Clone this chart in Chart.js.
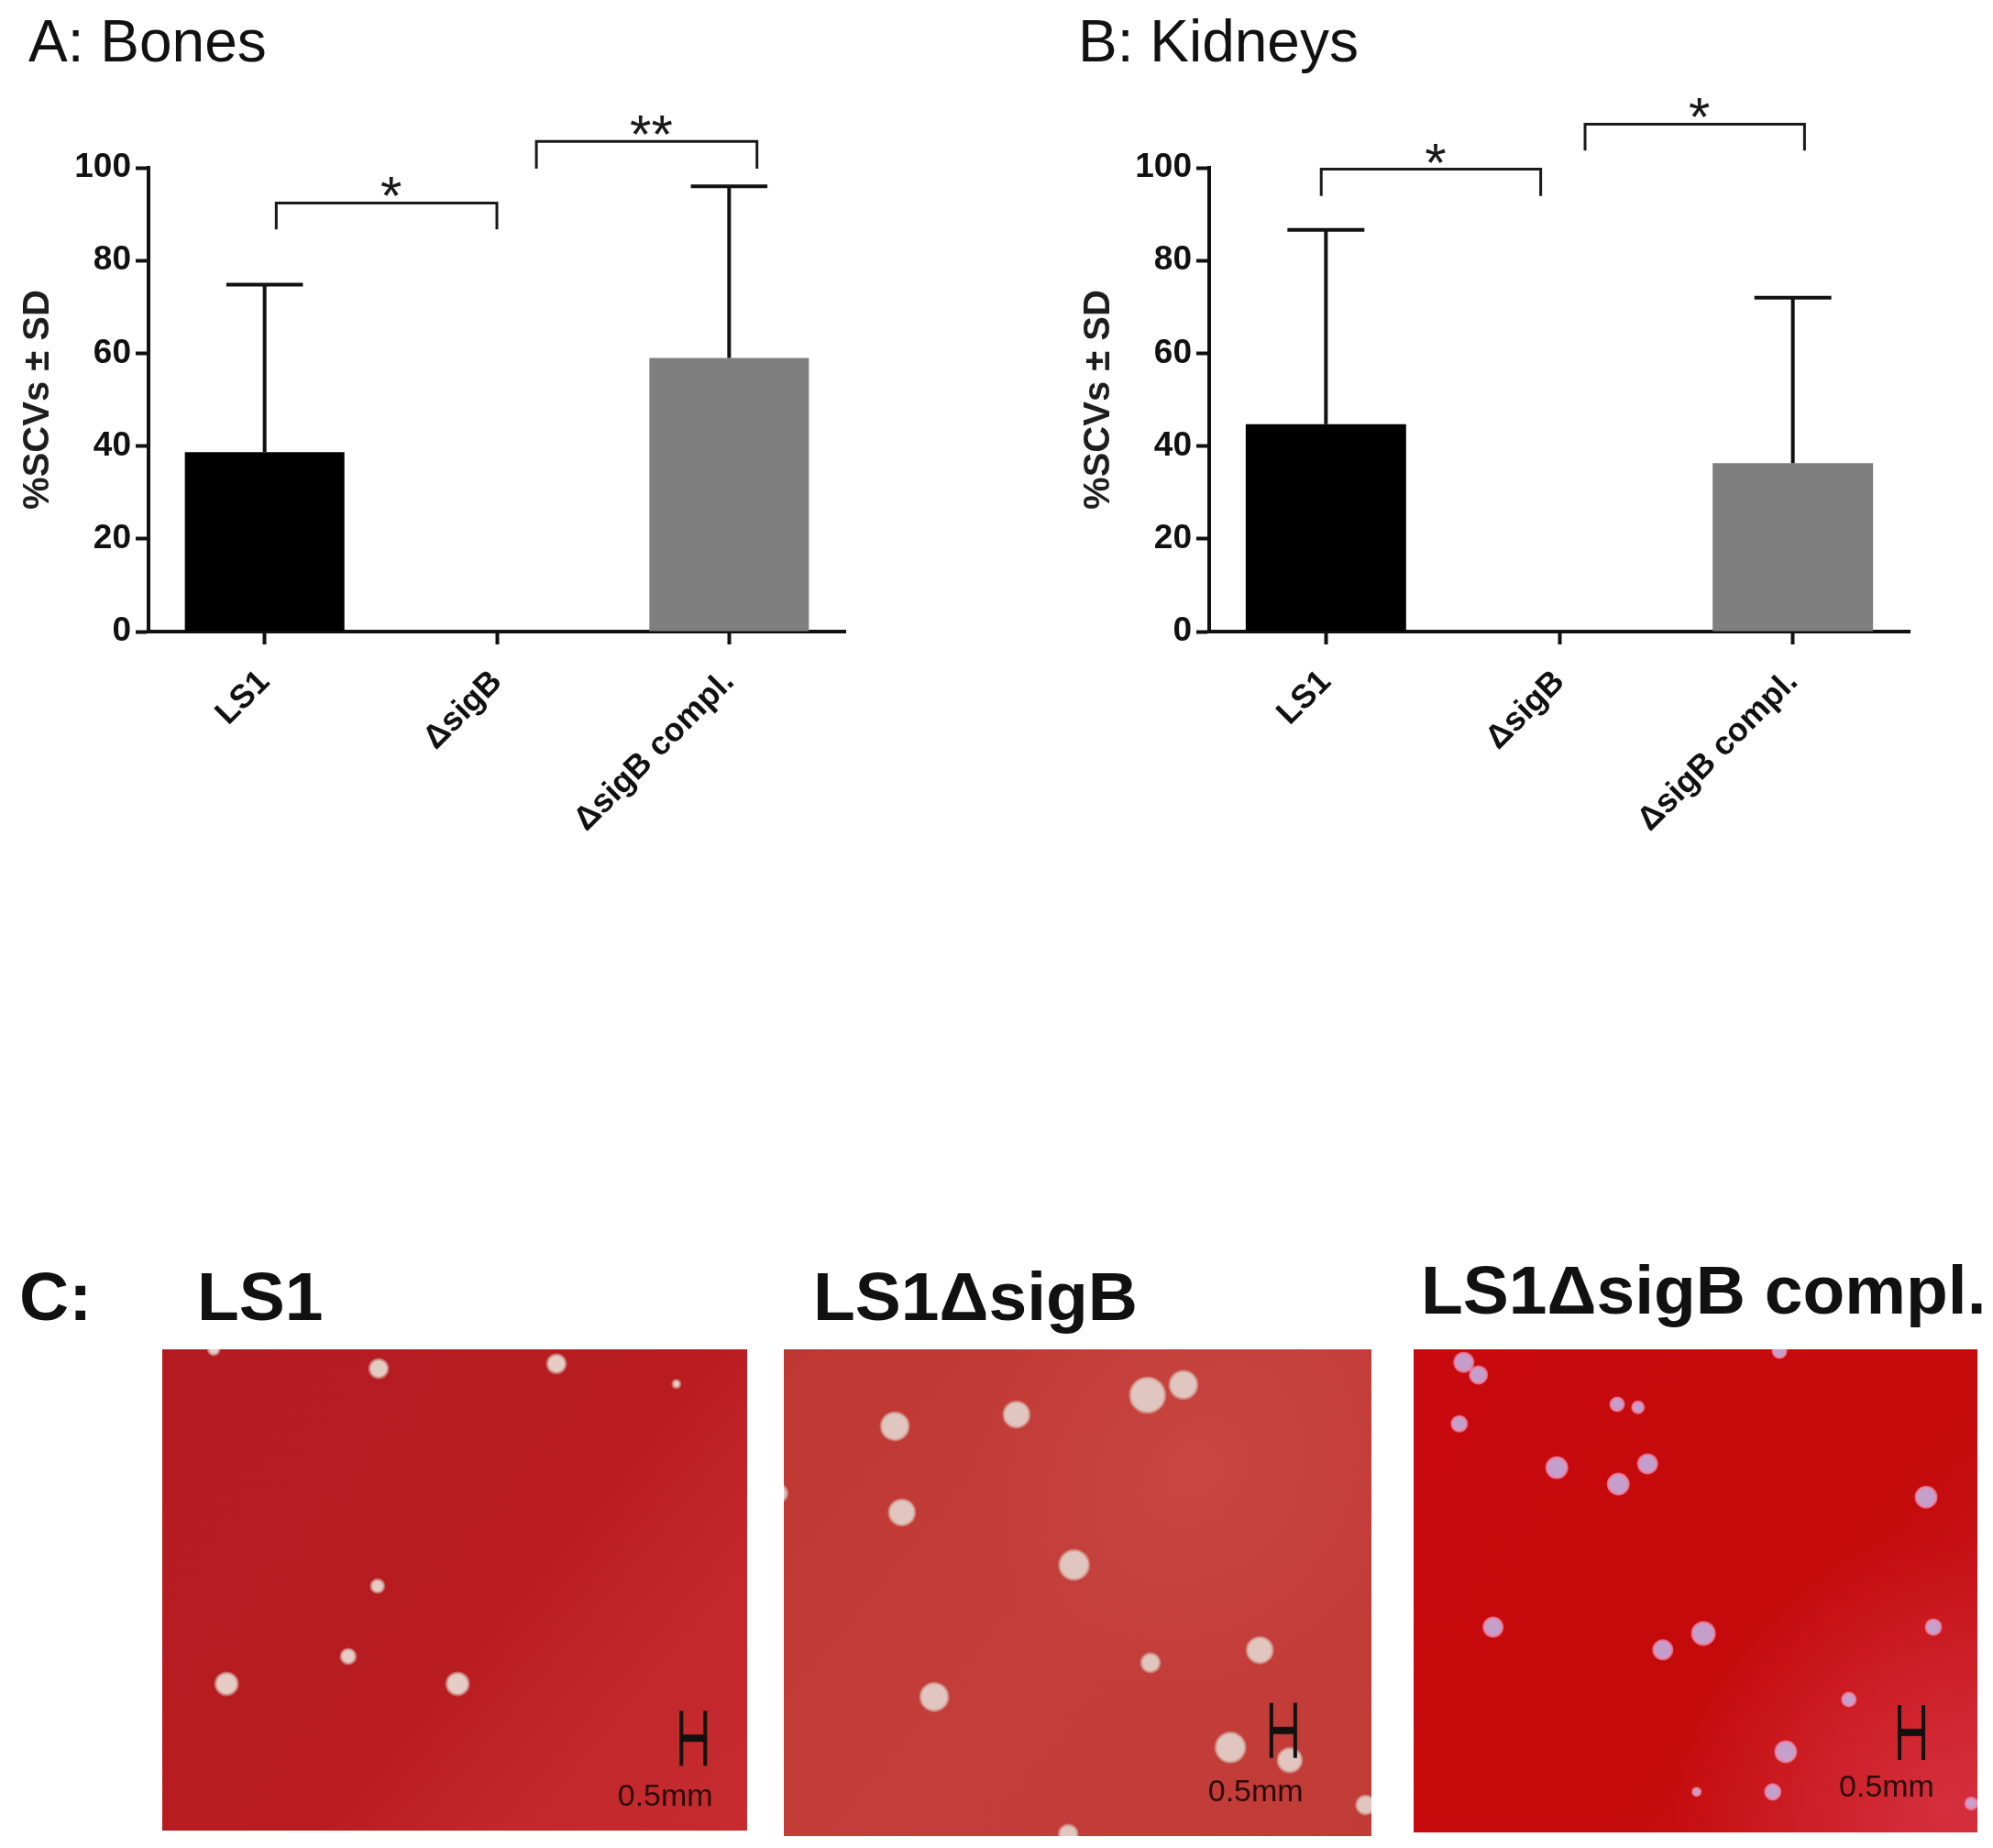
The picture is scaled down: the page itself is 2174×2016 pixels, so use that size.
<!DOCTYPE html>
<html>
<head>
<meta charset="utf-8">
<script src="https://cdn.jsdelivr.net/npm/chart.js@4.4.1/dist/chart.umd.min.js"></script>
<style>
html, body { margin: 0; padding: 0; background: #fff; }
body { width: 2174px; height: 2016px; position: relative; overflow: hidden; font-family: "Liberation Sans", Arial, sans-serif; }
.box { position: absolute; }
.label { position: absolute; line-height: 1; white-space: nowrap; color: #111; }
</style>
</head>
<body>
<div class="label" style="left:31px;top:13px;font-size:64px;">A: Bones</div>
<div class="label" style="left:1176px;top:13px;font-size:64px;">B: Kidneys</div>
<div class="box" style="left:0;top:0;width:1087px;height:960px"><canvas id="chartBones"></canvas></div>
<div class="box" style="left:1087px;top:0;width:1087px;height:960px"><canvas id="chartKidneys"></canvas></div>

<div class="label" style="left:21px;top:1377px;font-size:75px;font-weight:bold;">C:</div>
<div class="label" style="left:215px;top:1377px;font-size:75px;font-weight:bold;">LS1</div>
<div class="label" style="left:887px;top:1377px;font-size:75px;font-weight:bold;">LS1ΔsigB</div>
<div class="label" style="left:1550px;top:1370px;font-size:75px;font-weight:bold;">LS1ΔsigB compl.</div>
<div class="box" style="left:177px;top:1472px;width:638px;height:525px"><canvas id="plate1"></canvas></div>
<div class="box" style="left:855px;top:1472px;width:641px;height:531px"><canvas id="plate2"></canvas></div>
<div class="box" style="left:1542px;top:1472px;width:615px;height:527px"><canvas id="plate3"></canvas></div>

<script>
// bar chart data
const groups = ['LS1', 'ΔsigB', 'ΔsigB compl.'];
const yTicks = [0, 20, 40, 60, 80, 100];
const bonesMean = [38.7, 0, 59.0];
const bonesSD = [36.1, 0, 37.0];
const kidneysMean = [44.7, 0, 36.3];
const kidneysSD = [41.9, 0, 35.7];
const bonesStars = ['*', '**'];
const kidneysStars = ['*', '*'];

// colonies on the plates, x/y in % of the photo, r in px
const plate1Colonies = [
    {x: 37.0, y: 4.0, r: 10}, {x: 67.4, y: 3.0, r: 10}, {x: 87.9, y: 7.2, r: 4},
    {x: 36.8, y: 49.2, r: 7}, {x: 31.8, y: 63.8, r: 8}, {x: 11.0, y: 69.5, r: 12},
    {x: 50.5, y: 69.5, r: 12}, {x: 8.8, y: 0.0, r: 6}
];
const plate2Colonies = [
    {x: 18.9, y: 15.8, r: 15}, {x: 39.6, y: 13.4, r: 14}, {x: 61.9, y: 9.4, r: 19},
    {x: 68.0, y: 7.3, r: 15}, {x: 20.1, y: 33.5, r: 14}, {x: 49.4, y: 44.3, r: 16},
    {x: 81.0, y: 61.8, r: 14}, {x: 62.4, y: 64.4, r: 10}, {x: 25.6, y: 71.4, r: 15},
    {x: 76.0, y: 81.8, r: 16}, {x: 86.1, y: 84.4, r: 13}, {x: -1.0, y: 29.6, r: 10},
    {x: 99.0, y: 93.6, r: 10}, {x: 48.4, y: 99.6, r: 10}
];
const plate3Colonies = [
    {x: 8.9, y: 2.7, r: 10}, {x: 11.5, y: 5.3, r: 9}, {x: 8.1, y: 15.4, r: 8},
    {x: 36.1, y: 11.4, r: 7}, {x: 39.8, y: 12.0, r: 6}, {x: 25.4, y: 24.5, r: 11},
    {x: 36.3, y: 27.9, r: 11}, {x: 41.5, y: 23.7, r: 10}, {x: 90.9, y: 30.6, r: 11},
    {x: 14.1, y: 57.5, r: 10}, {x: 51.4, y: 58.8, r: 12}, {x: 44.2, y: 62.2, r: 10},
    {x: 92.2, y: 57.5, r: 8}, {x: 77.2, y: 72.5, r: 7}, {x: 66.0, y: 83.3, r: 11},
    {x: 63.7, y: 91.6, r: 8}, {x: 50.2, y: 91.6, r: 4}, {x: 64.9, y: 0.4, r: 7},
    {x: 98.9, y: 94.0, r: 6}
];

const INK = '#111';
const barColors = ['#000000', '#ffffff', '#7f7f7f'];

// SD whiskers, upward only
const errorBars = {
    id: 'errorBars',
    afterDatasetsDraw(chart) {
        const {ctx, scales: {y}} = chart;
        const ds = chart.data.datasets[0];
        const meta = chart.getDatasetMeta(0);
        ctx.save();
        ctx.strokeStyle = INK;
        ctx.lineWidth = 4;
        ds.sd.forEach((sd, i) => {
            if (!sd) return;
            const bar = meta.data[i];
            const top = y.getPixelForValue(ds.data[i] + sd);
            const half = bar.width * 0.24;
            ctx.beginPath();
            ctx.moveTo(bar.x, bar.y);
            ctx.lineTo(bar.x, top);
            ctx.moveTo(bar.x - half, top);
            ctx.lineTo(bar.x + half, top);
            ctx.stroke();
        });
        ctx.restore();
    }
};

// significance brackets between groups
function bracketPlugin(stars, spans) {
    return {
        id: 'brackets',
        afterDraw(chart) {
            const {ctx, scales: {x, y}} = chart;
            ctx.save();
            ctx.strokeStyle = '#1a1a1a';
            ctx.fillStyle = '#1a1a1a';
            ctx.lineWidth = 3;
            ctx.font = '60px "Liberation Sans"';
            ctx.textAlign = 'center';
            ctx.textBaseline = 'alphabetic';
            spans.forEach((s, i) => {
                const x0 = x.getPixelForValue(s.from);
                const x1 = x.getPixelForValue(s.to);
                const yTop = y.getPixelForValue(s.level);
                const yLeg = y.getPixelForValue(s.level - s.leg);
                ctx.beginPath();
                ctx.moveTo(x0, yLeg);
                ctx.lineTo(x0, yTop);
                ctx.lineTo(x1, yTop);
                ctx.lineTo(x1, yLeg);
                ctx.stroke();
                const m = ctx.measureText(stars[i]);
                ctx.fillText(stars[i], (x0 + x1) / 2 + 5, yTop - 7 - m.actualBoundingBoxDescent);
            });
            ctx.restore();
        }
    };
}

function barChart(id, means, sds, stars, spans, axisWidth, titlePad, padRight) {
    return new Chart(document.getElementById(id), {
        type: 'bar',
        data: {
            labels: groups,
            datasets: [{
                data: means,
                sd: sds,
                backgroundColor: barColors,
                borderWidth: 0,
                categoryPercentage: 1,
                barPercentage: 0.687
            }]
        },
        options: {
            responsive: true,
            maintainAspectRatio: false,
            animation: false,
            events: [],
            layout: {padding: {top: 183, right: padRight, bottom: 0, left: 0}},
            plugins: {legend: {display: false}, tooltip: {enabled: false}},
            scales: {
                x: {
                    offset: true,
                    grid: {display: true, offset: false, drawOnChartArea: false, drawTicks: true,
                           tickLength: 14, tickWidth: 4, tickColor: INK, color: INK},
                    border: {display: true, color: INK, width: 4},
                    ticks: {color: INK, font: {family: 'Liberation Sans', weight: 'bold', size: 36},
                            minRotation: 45, maxRotation: 45, padding: 20},
                    afterFit(scale) { scale.height = 271; }
                },
                y: {
                    min: 0,
                    max: 100,
                    afterBuildTicks(scale) { scale.ticks = yTicks.map(v => ({value: v})); },
                    grid: {display: true, drawOnChartArea: false, drawTicks: true,
                           tickLength: 14, tickWidth: 4, tickColor: INK, color: INK},
                    border: {display: true, color: INK, width: 4},
                    ticks: {color: INK, font: {family: 'Liberation Sans', weight: 'bold', size: 37}, padding: 5},
                    title: {display: true, text: '%SCVs ± SD', color: '#1e1e1e',
                            font: {family: 'Liberation Sans', weight: 'bold', size: 40},
                            padding: {top: titlePad, bottom: 0}},
                    afterFit(scale) { scale.width = axisWidth; }
                }
            }
        },
        plugins: [errorBars, bracketPlugin(stars, spans)]
    });
}

barChart('chartBones', bonesMean, bonesSD, bonesStars,
    [{from: 0.05, to: 1.0, level: 92.4, leg: 5.7}, {from: 1.17, to: 2.12, level: 105.7, leg: 5.9}],
    162, 18, 165);
barChart('chartKidneys', kidneysMean, kidneysSD, kidneysStars,
    [{from: -0.02, to: 0.92, level: 99.7, leg: 5.8}, {from: 1.11, to: 2.05, level: 109.4, leg: 5.7}],
    232, 88, 91);

// agar plate photos: background, colonies as bubbles, 0.5 mm scale bar
function plateChart(id, colonies, look) {
    const plate = {
        id: 'plate',
        beforeDatasetsDraw(chart) {
            const {ctx, chartArea: a} = chart;
            ctx.save();
            const g = ctx.createLinearGradient(a.left, a.top, a.right, a.bottom);
            look.bg.forEach(([stop, c]) => g.addColorStop(stop, c));
            ctx.fillStyle = g;
            ctx.fillRect(a.left, a.top, a.right - a.left, a.bottom - a.top);
            if (look.glow) {
                const [gx, gy, gr, rgb, alpha] = look.glow;
                const cx = a.left + (a.right - a.left) * gx / 100;
                const cy = a.top + (a.bottom - a.top) * gy / 100;
                const rg = ctx.createRadialGradient(cx, cy, 0, cx, cy, gr);
                rg.addColorStop(0, 'rgba(' + rgb + ',' + alpha + ')');
                rg.addColorStop(1, 'rgba(' + rgb + ',0)');
                ctx.fillStyle = rg;
                ctx.fillRect(a.left, a.top, a.right - a.left, a.bottom - a.top);
            }
            ctx.restore();
        },
        afterDraw(chart) {
            const {ctx, scales: {x, y}} = chart;
            const bx = x.getPixelForValue(look.bar[0]);
            const by = y.getPixelForValue(look.bar[1]);
            ctx.save();
            ctx.strokeStyle = '#141010';
            ctx.lineWidth = 4;
            ctx.beginPath();
            ctx.moveTo(bx - 13, by - 30); ctx.lineTo(bx - 13, by + 30);
            ctx.moveTo(bx + 13, by - 30); ctx.lineTo(bx + 13, by + 30);
            ctx.stroke();
            ctx.lineWidth = 8;
            ctx.beginPath();
            ctx.moveTo(bx - 13, by); ctx.lineTo(bx + 13, by);
            ctx.stroke();
            ctx.fillStyle = '#2a0c0c';
            ctx.font = '34px "Liberation Sans Narrow", "Liberation Sans"';
            ctx.textAlign = 'center';
            ctx.textBaseline = 'middle';
            ctx.fillText('0.5mm', x.getPixelForValue(look.text[0]), y.getPixelForValue(look.text[1]));
            ctx.restore();
        }
    };
    return new Chart(document.getElementById(id), {
        type: 'bubble',
        data: {
            datasets: [{
                data: colonies,
                backgroundColor: look.colony,
                borderColor: look.rim,
                borderWidth: 3,
                clip: 0
            }]
        },
        options: {
            responsive: true,
            maintainAspectRatio: false,
            animation: false,
            events: [],
            layout: {padding: 0, autoPadding: false},
            plugins: {legend: {display: false}, tooltip: {enabled: false}},
            scales: {
                x: {type: 'linear', min: 0, max: 100, display: false},
                y: {type: 'linear', min: 0, max: 100, reverse: true, display: false}
            }
        },
        plugins: [plate]
    });
}

plateChart('plate1', plate1Colonies, {
    bg: [[0, '#b41b20'], [0.55, '#b81c21'], [0.75, '#c2272b'], [1, '#c62c2f']],
    glow: null,
    colony: 'rgba(232,214,204,0.95)', rim: 'rgba(205,150,145,0.6)',
    bar: [90.8, 80.8], text: [86.0, 93.0]
});
plateChart('plate2', plate2Colonies, {
    bg: [[0, '#bf3733'], [0.5, '#c33e3a'], [1, '#c13b37']],
    glow: [70, 25, 240, '212,88,82', 0.3],
    colony: 'rgba(226,206,198,0.95)', rim: 'rgba(210,160,150,0.6)',
    bar: [85.0, 78.3], text: [80.3, 91.0]
});
plateChart('plate3', plate3Colonies, {
    bg: [[0, '#c80a0e'], [0.6, '#c40a0b'], [1, '#c81a20']],
    glow: [95, 95, 300, '225,70,92', 0.5],
    colony: 'rgba(196,168,214,0.95)', rim: 'rgba(235,140,175,0.75)',
    bar: [88.3, 79.3], text: [83.9, 90.9]
});
</script>
</body>
</html>
